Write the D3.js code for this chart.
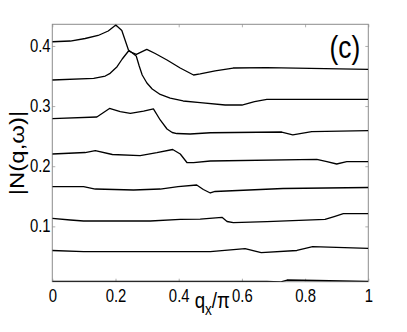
<!DOCTYPE html>
<html>
<head>
<meta charset="utf-8">
<script src="https://cdn.jsdelivr.net/npm/d3@7"></script>
<style>
  body { margin: 0; background: #fff; }
  text { font-family: "Liberation Sans", Arial, sans-serif; }
</style>
</head>
<body>
<script>
// spectra |N(q,w)| along q_x, one line per frequency, each [q_x/pi, value]
const curveA = [[0,0.407],[0.057,0.4082],[0.104,0.4124],[0.145,0.4174],[0.177,0.4249],[0.201,0.4348],[0.22,0.4257],
  [0.241,0.3933],[0.2656,0.3833],[0.275,0.3667],[0.2845,0.3517],[0.2994,0.3384],[0.3162,0.3284],[0.3415,0.3193],
  [0.3731,0.3134],[0.414,0.3085],[0.468,0.3056],[0.547,0.3018],[0.6,0.3018],[0.64,0.3075],[0.679,0.3113],[1,0.3113]];
const curveB = [[0,0.3434],[0.131,0.3462],[0.1676,0.35],[0.183,0.3545],[0.205,0.3655],[0.2213,0.3783],[0.2412,0.3916],
  [0.266,0.3861],[0.299,0.3944],[0.3256,0.3874],[0.363,0.3766],[0.4047,0.3633],[0.447,0.3517],[0.468,0.3534],
  [0.5153,0.3584],[0.5722,0.3633],[0.679,0.3638],[1,0.3612]];
const curveC = [[0,0.279],[0.141,0.2819],[0.181,0.296],[0.215,0.2907],[0.247,0.288],[0.289,0.2918],[0.32,0.2955],
  [0.3415,0.2769],[0.363,0.2619],[0.3794,0.2561],[0.394,0.2544],[0.436,0.2536],[0.5,0.2557],[0.726,0.2569],
  [0.761,0.2523],[0.821,0.2577],[1,0.2591]];
const curveD = [[0,0.2203],[0.104,0.2228],[0.136,0.2258],[0.19,0.2195],[0.278,0.2178],[0.331,0.2225],[0.381,0.2278],
  [0.405,0.2203],[0.426,0.2062],[0.447,0.2059],[0.5,0.2087],[0.837,0.2115],[0.869,0.2075],[0.9,0.2037],[0.932,0.2075],[1,0.2075]];
const curveE = [[0,0.166],[0.099,0.166],[0.136,0.1621],[0.257,0.1605],[0.3415,0.1621],[0.398,0.166],[0.457,0.1688],
  [0.478,0.1613],[0.5,0.1555],[0.515,0.158],[0.73,0.163],[1,0.1646]];
const curveF = [[0,0.1134],[0.057,0.1106],[0.099,0.1089],[0.31,0.1089],[0.405,0.1117],[0.468,0.1122],[0.537,0.1151],
  [0.553,0.1081],[0.573,0.1061],[0.679,0.1078],[0.863,0.1117],[0.892,0.1164],[0.921,0.1211],[1,0.1211]];
const curveG = [[0,0.0599],[0.099,0.0579],[0.5,0.0579],[0.61,0.0629],[0.661,0.0562],[0.774,0.0599],[0.824,0.0662],[1,0.0635]];
const curveH = [[0,0.0086],[0.679,0.0083],[0.721,0.0075],[0.743,0.0108],[0.837,0.01],[1,0.0086]];
const curves = [curveA, curveB, curveC, curveD, curveE, curveF, curveG, curveH];

const xTicks = [0, 0.2, 0.4, 0.6, 0.8, 1];
const yTicks = [0.1, 0.2, 0.3, 0.4];
const xDomain = [0, 1];
const yDomain = [0.008, 0.436];
const panelLabel = "(c)";

const width = 407, height = 332;
const margin = {top: 24.3, right: 38.7, bottom: 50.3, left: 52.3};
const squeeze = 0.85; // the figure text is narrowed horizontally

const svg = d3.select("body").append("svg")
  .attr("width", width).attr("height", height);

const x = d3.scaleLinear().domain(xDomain).range([margin.left, width - margin.right]);
const y = d3.scaleLinear().domain(yDomain).range([height - margin.bottom, margin.top]);

svg.append("clipPath").attr("id", "plot")
  .append("rect")
  .attr("x", x(0)).attr("y", y(yDomain[1]))
  .attr("width", x(1) - x(0)).attr("height", y(yDomain[0]) - y(yDomain[1]));

const fmt = d => d === 0 ? "0" : d === 1 ? "1" : String(d);
const grey = "#8c8c8c";

// axes, ticks inward like the matlab box
function styleAxis(g) {
  g.select(".domain").remove();
  g.selectAll(".tick line").attr("stroke", "#b0b0b0");
  g.selectAll("text").attr("fill", "#000").attr("font-size", 17.5);
}

svg.append("g")
  .attr("transform", `translate(0,${y(yDomain[0])})`)
  .call(d3.axisBottom(x).tickValues(xTicks).tickFormat(fmt).tickSizeInner(-3).tickSizeOuter(0).tickPadding(8))
  .call(styleAxis)
  .call(g => g.selectAll("text").attr("transform", `scale(${squeeze},1)`));

svg.append("g")
  .attr("transform", `translate(0,${y(yDomain[1])})`)
  .call(d3.axisTop(x).tickValues(xTicks).tickFormat("").tickSizeInner(-3).tickSizeOuter(0))
  .call(styleAxis);

svg.append("g")
  .attr("transform", `translate(${x(0)},0)`)
  .call(d3.axisLeft(y).tickValues(yTicks).tickFormat(fmt).tickSizeInner(-3).tickSizeOuter(0).tickPadding(2))
  .call(styleAxis)
  .call(g => g.selectAll("text").attr("transform", `scale(${squeeze},1)`));

svg.append("g")
  .attr("transform", `translate(${x(1)},0)`)
  .call(d3.axisRight(y).tickValues(yTicks).tickFormat("").tickSizeInner(-3).tickSizeOuter(0))
  .call(styleAxis);

// box
svg.append("rect")
  .attr("x", x(0)).attr("y", y(yDomain[1]))
  .attr("width", x(1) - x(0)).attr("height", y(yDomain[0]) - y(yDomain[1]))
  .attr("fill", "none").attr("stroke", grey).attr("stroke-width", 1);

const line = d3.line().x(d => x(d[0])).y(d => y(d[1]));

svg.append("g").attr("clip-path", "url(#plot)")
  .selectAll("path").data(curves).join("path")
  .attr("d", line)
  .attr("fill", "none")
  .attr("stroke", "#000")
  .attr("stroke-width", 1.3)
  .attr("stroke-linejoin", "round");

// panel label
svg.append("text")
  .attr("transform", `translate(${x(1) - 8},57.5) scale(${squeeze},1)`)
  .attr("text-anchor", "end")
  .attr("font-size", 31)
  .text(panelLabel);

// y label
svg.append("text")
  .attr("transform", `translate(24,${(y(yDomain[0]) + y(yDomain[1])) / 2}) scale(${squeeze},1) rotate(-90)`)
  .attr("text-anchor", "middle")
  .attr("font-size", 24)
  .text("|N(q,ω)|");

// x label
const xl = svg.append("text")
  .attr("transform", `translate(${(x(0) + x(1)) / 2 + 2},308) scale(${squeeze},1)`)
  .attr("text-anchor", "middle")
  .attr("font-size", 22);
xl.append("tspan").text("q");
xl.append("tspan").attr("font-size", 16).attr("dy", 7).text("x");
xl.append("tspan").attr("dy", -7).text("/π");
</script>
</body>
</html>
